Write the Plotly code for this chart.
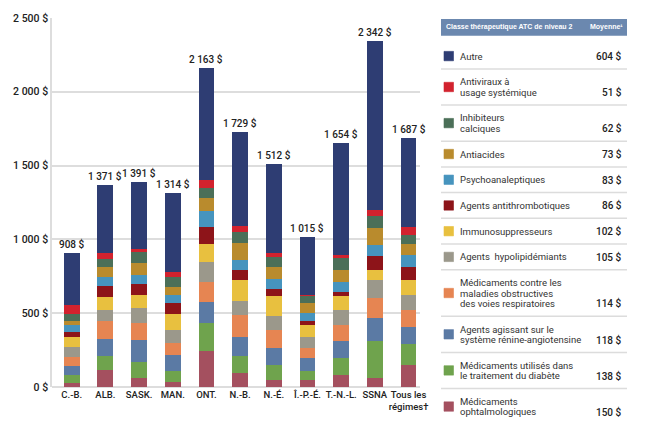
import plotly.graph_objects as go

# ---------------- data ----------------
regions = ["C.-B.", "ALB.", "SASK.", "MAN.", "ONT.", "N.-B.", "N.-É.", "Î.-P.-É.",
           "T.-N.-L.", "SSNA", "Tous les<br>régimes†"]
totals = [908, 1371, 1391, 1314, 2163, 1729, 1512, 1015, 1654, 2342, 1687]
total_labels = ["908 $", "1 371 $", "1 391 $", "1 314 $", "2 163 $", "1 729 $",
                "1 512 $", "1 015 $", "1 654 $", "2 342 $", "1 687 $"]

# stacked segments, bottom to top
ophtalmo = [29, 116, 63, 31, 246, 98, 45, 49, 83, 63, 150]
diabete = [54, 96, 105, 76, 190, 114, 105, 58, 112, 248, 138]
renine = [60, 112, 152, 109, 143, 127, 112, 87, 118, 154, 118]
respiratoire = [63, 123, 112, 83, 134, 147, 121, 71, 105, 139, 114]
hypolipid = [67, 76, 100, 85, 132, 96, 96, 74, 107, 123, 105]
immuno = [63, 85, 94, 112, 121, 141, 136, 78, 89, 67, 102]
antithromb = [40, 78, 74, 71, 116, 69, 49, 31, 29, 94, 86]
psycho = [42, 60, 60, 54, 112, 71, 67, 51, 71, 74, 83]
antiacides = [31, 67, 80, 54, 87, 116, 83, 71, 78, 116, 73]
calciques = [49, 51, 76, 67, 69, 74, 65, 49, 85, 83, 62]
antiviraux = [60, 47, 20, 40, 51, 40, 27, 5, 18, 40, 51]
autre = [350, 460, 455, 532, 762, 636, 606, 391, 759, 1141, 605]

series = [
    ("Médicaments<br>ophtalmologiques", ophtalmo, "#a4505f"),
    ("Médicaments utilisés dans<br>le traitement du diabète", diabete, "#6fa34d"),
    ("Agents agissant sur le<br>système rénine-angiotensine", renine, "#5b7aa4"),
    ("Médicaments contre les<br>maladies obstructives<br>des voies respiratoires", respiratoire, "#e68552"),
    ("Agents  hypolipidémiants", hypolipid, "#9b988b"),
    ("Immunosuppresseurs", immuno, "#e8c03f"),
    ("Agents antithrombotiques", antithromb, "#8d1419"),
    ("Psychoanaleptiques", psycho, "#4694be"),
    ("Antiacides", antiacides, "#b98b2d"),
    ("Inhibiteurs<br>calciques", calciques, "#4b6f58"),
    ("Antiviraux à<br>usage systémique", antiviraux, "#d2222e"),
    ("Autre", autre, "#2e3d73"),
]
averages = [150, 138, 118, 114, 105, 102, 86, 83, 73, 62, 51, 604]

y_ticks = [0, 500, 1000, 1500, 2000, 2500]
y_tick_labels = ["0 $", "500 $", "1 000 $", "1 500 $", "2 000 $", "2 500 $"]

# ---------------- figure ----------------
FONT = "Roboto, Liberation Sans, sans-serif"
HFONT = "Liberation Sans, Roboto, sans-serif"
W, H = 650, 424
ML, MR, MT, MB = 52, 230, 17, 34
PW, PH = W - ML - MR, H - MT - MB


def px(X):
    return (X - ML) / PW


def py(Y):
    return (H - MB - Y) / PH


fig = go.Figure()
for name, vals, col in series:
    fig.add_trace(go.Bar(x=regions, y=vals, name=name, marker_color=col,
                         marker_line_width=0, width=0.47, showlegend=False))

annotations = []
for r, t, lab in zip(regions, totals, total_labels):
    annotations.append(dict(x=r, y=t, text=lab, showarrow=False, yanchor="bottom",
                            yshift=1, font=dict(family=FONT, size=10, color="#222222", weight=500)))

shapes = []
# legend table header
shapes.append(dict(type="rect", xref="paper", yref="paper", x0=px(441), x1=px(627),
                   y0=py(35), y1=py(18), fillcolor="#6b88af", line_width=0))
annotations.append(dict(xref="paper", yref="paper", x=px(444), y=py(26.5), xanchor="left",
                        yanchor="middle", showarrow=False, text="<b>Classe thérapeutique ATC de niveau 2</b>",
                        font=dict(family=HFONT, size=7, color="white")))
annotations.append(dict(xref="paper", yref="paper", x=px(625), y=py(26.5), xanchor="right",
                        yanchor="middle", showarrow=False, text="<b>Moyenne¹</b>",
                        font=dict(family=HFONT, size=7, color="white")))

# legend rows, top to bottom
top = 42.5
line_h = 10.5
for (name, vals, col), avg in reversed(list(zip(series, averages))):
    lines = name.split("<br>")
    n = len(lines)
    h = 15.5 + n * line_h
    cy = top + h / 2
    shapes.append(dict(type="rect", xref="paper", yref="paper", x0=px(444), x1=px(453.5),
                       y0=py(cy + 4.75), y1=py(cy - 4.75), fillcolor=col,
                       line=dict(color=col, width=0.6)))
    for i, ln in enumerate(lines):
        ly = cy + (i - (n - 1) / 2) * line_h
        annotations.append(dict(xref="paper", yref="paper", x=px(457.5), y=py(ly), xanchor="left",
                                yanchor="middle", showarrow=False, text=ln,
                                font=dict(family=FONT, size=9.5, color="#333333")))
    ly_last = cy + (n - 1) / 2 * line_h
    annotations.append(dict(xref="paper", yref="paper", x=px(624), y=py(ly_last), xanchor="right",
                            yanchor="middle", showarrow=False, text=f"{avg} $",
                            font=dict(family=FONT, size=10, color="#222222", weight=500)))
    top += h
    if top < 420:
        shapes.append(dict(type="line", xref="paper", yref="paper", x0=px(441), x1=px(627),
                           y0=py(top), y1=py(top), line=dict(color="#dcdcdc", width=1.5)))

fig.update_layout(
    barmode="stack",
    width=W, height=H,
    margin=dict(l=ML, r=MR, t=MT, b=MB),
    paper_bgcolor="white", plot_bgcolor="white",
    font=dict(family=FONT, size=11, color="#222222"),
    bargap=0.5,
    shapes=shapes,
    annotations=annotations,
)
fig.update_xaxes(range=[-0.585, 10.34], showgrid=False, showline=False, ticks="",
                 tickangle=0,
                 tickfont=dict(family=FONT, size=9.5, color="#222222", weight=500))
fig.update_yaxes(range=[0, 2500], tickvals=y_ticks, ticktext=y_tick_labels,
                 showgrid=True, gridcolor="#dddddd", gridwidth=1.5,
                 showline=True, linecolor="#dddddd", linewidth=1.5,
                 zeroline=True, zerolinecolor="#dddddd", zerolinewidth=1.5,
                 ticks="", tickfont=dict(family=FONT, size=10.5, color="#222222", weight=500))

fig.write_html("out.html", config={"displayModeBar": False},
               post_script="document.body.style.margin='0';document.body.style.overflow='hidden';")
